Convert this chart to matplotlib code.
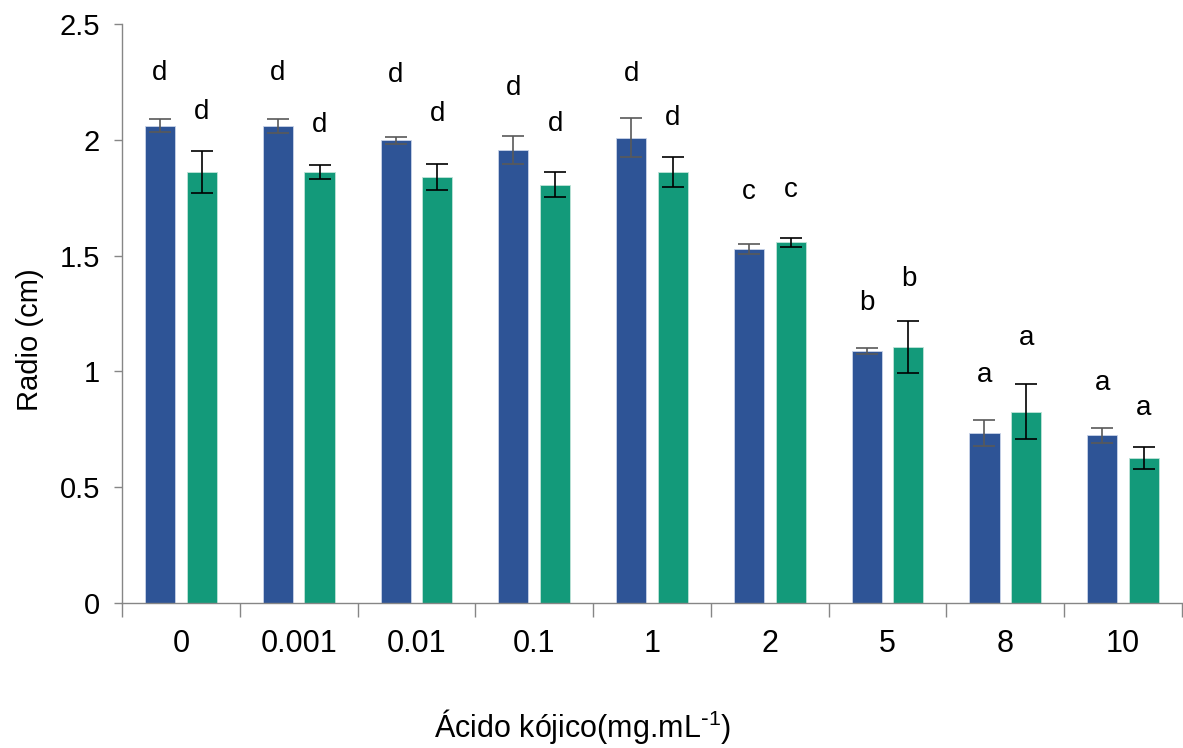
import numpy as np
import matplotlib
matplotlib.use("Agg")
import matplotlib.pyplot as plt

plt.rcParams["font.family"] = ["Liberation Sans", "DejaVu Sans"]
plt.rcParams["mathtext.default"] = "regular"

# data
categories = ["0", "0.001", "0.01", "0.1", "1", "2", "5", "8", "10"]
blue_vals = [2.060, 2.060, 1.999, 1.956, 2.008, 1.528, 1.088, 0.734, 0.725]
blue_err = [0.028, 0.030, 0.015, 0.060, 0.084, 0.022, 0.015, 0.058, 0.032]
green_vals = [1.861, 1.861, 1.839, 1.805, 1.861, 1.557, 1.105, 0.825, 0.626]
green_err = [0.091, 0.030, 0.056, 0.054, 0.063, 0.019, 0.114, 0.119, 0.047]
blue_letters = ["d", "d", "d", "d", "d", "c", "b", "a", "a"]
green_letters = ["d", "d", "d", "d", "d", "c", "b", "a", "a"]
# height (data units) where each letter sits
blue_letter_y = [2.288, 2.288, 2.280, 2.224, 2.284, 1.775, 1.295, 0.984, 0.950]
green_letter_y = [2.120, 2.064, 2.111, 2.068, 2.094, 1.783, 1.399, 1.144, 0.842]

BLUE = "#2E5496"
GREEN = "#139A7A"

fig = plt.figure(figsize=(11.83, 7.48), dpi=100)
ax = fig.add_axes([122 / 1183, 1 - 603 / 748, 1060 / 1183, 579 / 748])

x = np.arange(len(categories))
w = 0.255
off = 0.177

ax.bar(x - off, blue_vals, width=w, color=BLUE, edgecolor="#C9D3E8", linewidth=0.6, zorder=2)
ax.bar(x + off, green_vals, width=w, color=GREEN, edgecolor="#BFE3D8", linewidth=0.6, zorder=2)
ax.errorbar(x - off, blue_vals, yerr=blue_err, fmt="none", ecolor="#595959",
            elinewidth=1.2, capsize=8, capthick=1.2, zorder=3)
ax.errorbar(x + off, green_vals, yerr=green_err, fmt="none", ecolor="black",
            elinewidth=1.2, capsize=8, capthick=1.2, zorder=3)

for i in range(len(categories)):
    ax.text(x[i] - off, blue_letter_y[i], blue_letters[i], ha="center", va="center", fontsize=20)
    ax.text(x[i] + off, green_letter_y[i], green_letters[i], ha="center", va="center", fontsize=20)

ax.set_xlim(-0.5, len(categories) - 0.5)
ax.set_ylim(0, 2.5)
ax.set_yticks([0, 0.5, 1, 1.5, 2, 2.5])
ax.set_yticklabels(["0", "0.5", "1", "1.5", "2", "2.5"], fontsize=21)

ax.set_xticks(np.arange(-0.5, len(categories)), labels=[])
ax.set_xticks(x, labels=categories, minor=True, fontsize=22)
ax.tick_params(axis="x", which="major", length=10, color="#868686", width=1)
ax.tick_params(axis="x", which="minor", length=0, pad=19)
ax.tick_params(axis="y", length=6, color="#868686", width=1, pad=10)

for s in ["top", "right"]:
    ax.spines[s].set_visible(False)
for s in ["left", "bottom"]:
    ax.spines[s].set_color("#868686")
    ax.spines[s].set_linewidth(1)

fig.text(583 / 1183, 1 - 727 / 748, r"Ácido kójico(mg.mL$^{\text{-}1}$)", ha="center", va="center", fontsize=22)
fig.text(30 / 1183, 1 - 340 / 748, "Radio (cm)", ha="center", va="center", rotation=90, fontsize=21)

fig.savefig("out.png", dpi=100)
